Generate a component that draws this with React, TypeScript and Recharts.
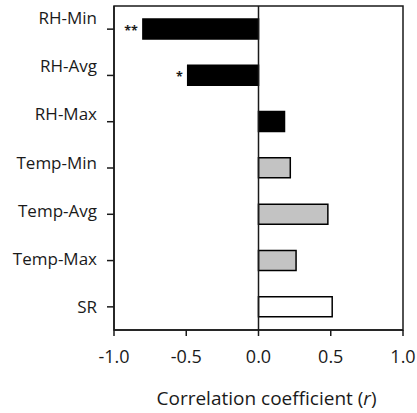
import React from 'react';
import { BarChart, Bar, XAxis, YAxis, Cell, ReferenceLine, ReferenceArea, LabelList } from 'recharts';

const categories = ['RH-Min', 'RH-Avg', 'RH-Max', 'Temp-Min', 'Temp-Avg', 'Temp-Max', 'SR'];
const correlations = [-0.8, -0.49, 0.18, 0.22, 0.48, 0.26, 0.51];
const significance = ['**', '*', '', '', '', '', ''];
const xTicks = [-1, -0.5, 0, 0.5, 1];

const data = categories.map((name, i) => ({ name, r: correlations[i], sig: significance[i] }));

const FONT = '"Open Sans", "Noto Sans", sans-serif';
const INK = '#1a1a1a';

const fillFor = (name: string) => {
  if (name.startsWith('RH')) return '#000000';
  if (name.startsWith('Temp')) return '#c3c3c3';
  return '#ffffff';
};

const YTick = (props: any) => {
  const { x, y, payload, index } = props;
  const dy = -(categories.length - 1 - index) * 2;
  return (
    <text x={x} y={y + dy} textAnchor="end" dominantBaseline="central" fontFamily={FONT} fontSize={17} fill={INK}>
      {payload.value}
    </text>
  );
};

const XTitle = (props: any) => {
  const vb = props.viewBox || {};
  const cx = vb.x + vb.width / 2 + 8;
  const y = vb.y + vb.height - 8;
  return (
    <text x={cx} y={y} textAnchor="middle" fontFamily={FONT} fontSize={19} fill={INK}>
      Correlation coefficient (<tspan fontStyle="italic">r</tspan>)
    </text>
  );
};

const SigLabel = (props: any) => {
  const { x, y, width, height, value } = props;
  if (!value) return null;
  const left = Math.min(x, x + width);
  return (
    <text x={left - 5} y={y + height / 2 + 6} textAnchor="end" fontFamily={FONT} fontSize={12.5} fontWeight="bold" fill={INK}>
      {value}
    </text>
  );
};

export default function App() {
  return (
    <div style={{ position: 'absolute', left: 0, top: 0, background: '#fff' }}>
      <BarChart
        width={417}
        height={413}
        data={data}
        layout="vertical"
        margin={{ top: 6, right: 14, left: 0, bottom: 0 }}
      >
        <XAxis
          type="number"
          domain={[-1, 1]}
          ticks={xTicks}
          tickFormatter={(v: number) => v.toFixed(1)}
          height={83}
          tickSize={6}
          tickMargin={14}
          axisLine={{ stroke: INK, strokeWidth: 1.5 }}
          tickLine={{ stroke: INK, strokeWidth: 1.5 }}
          tick={{ fontFamily: FONT, fontSize: 18, fill: INK }}
          label={<XTitle />}
        />
        <YAxis
          type="category"
          dataKey="name"
          width={114}
          tickSize={7}
          tickMargin={10}
          axisLine={{ stroke: INK, strokeWidth: 1.5 }}
          tickLine={{ stroke: INK, strokeWidth: 1.5 }}
          tick={<YTick />}
          interval={0}
        />
        <ReferenceArea x1={-1} x2={1} fill="none" stroke={INK} strokeWidth={1.5} ifOverflow="extendDomain" />
        <ReferenceLine x={0} stroke={INK} strokeWidth={1.5} />
        <Bar dataKey="r" barSize={20} stroke="#000" strokeWidth={1.5} isAnimationActive={false}>
          {data.map((d) => (
            <Cell key={d.name} fill={fillFor(d.name)} />
          ))}
          <LabelList dataKey="sig" content={<SigLabel />} />
        </Bar>
      </BarChart>
    </div>
  );
}
